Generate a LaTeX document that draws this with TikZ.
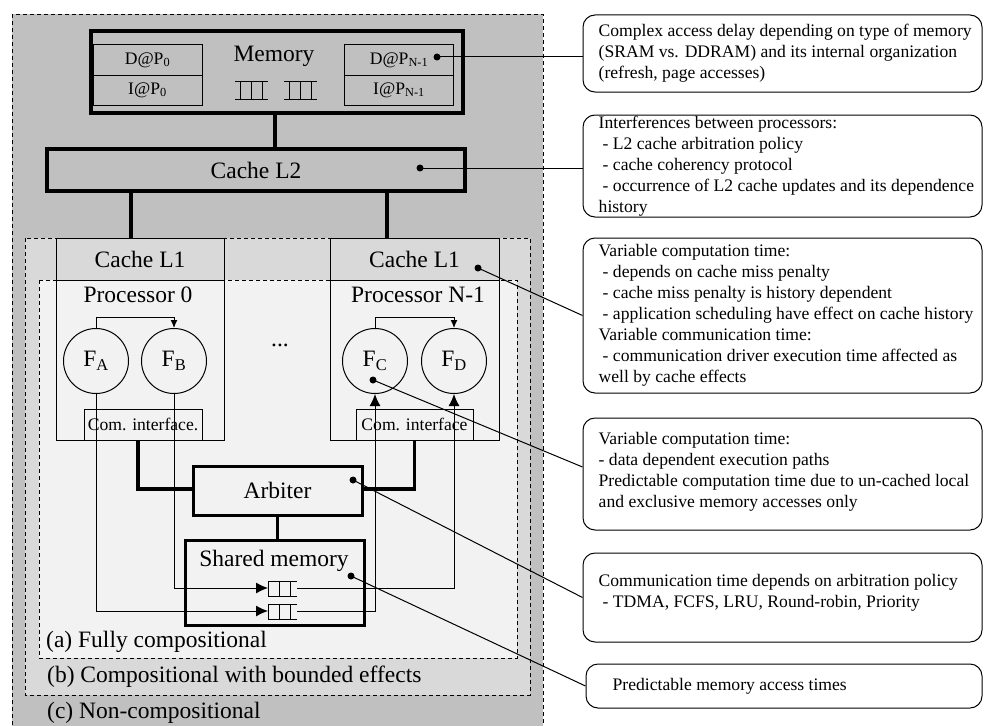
\documentclass[tikz,border=0pt]{standalone}
\usepackage{fontspec}
\setmainfont{Liberation Serif}
\usetikzlibrary{arrows.meta,calc}

\definecolor{grayC}{RGB}{192,192,192}
\definecolor{grayB}{RGB}{217,217,217}
\definecolor{grayA}{RGB}{242,242,242}

\newcommand{\bigfnt}{\fontsize{23.5}{27}\selectfont}
\newcommand{\smallfnt}{\fontsize{17.6}{21}\selectfont}

\tikzset{
	heavybox/.style={draw, line width=3.5pt, inner sep=0pt},
	thinbox/.style={draw, line width=1pt, inner sep=0pt},
	cell/.style={thinbox, fill=grayC, minimum width=109pt, minimum height=30pt, font=\smallfnt},
	func/.style={draw, circle, line width=1pt, inner sep=0pt, minimum size=65pt},
	region/.style={draw, line width=0.9pt, dash pattern=on 4pt off 3pt},
	bus/.style={line width=3.5pt},
	wire/.style={line width=1pt},
	dotmark/.style={circle, fill=black, inner sep=0pt, minimum size=7pt},
	note/.style={draw, rounded corners=12pt, line width=1pt, inner sep=0pt, minimum width=399pt},
	notetext/.style={anchor=west, align=left, inner sep=0pt, font=\smallfnt},
	ladder/.pic={
		\draw[line width=1pt] (0,0) -- (33,0) (0,18) -- (33,18)
		(5,0) -- (5,18) (16,0) -- (16,18) (27,0) -- (27,18);
	},
	queue/.pic={
		\draw[line width=1pt] (0,0) -- (29,0) (0,15) -- (29,15)
		(0,0) -- (0,15) (11,0) -- (11,15) (22,0) -- (22,15);
	}
}

\begin{document}
\begin{tikzpicture}
	[
	x=1pt, y=-1pt, font=\bigfnt, >={Latex[length=12pt,width=11pt]}
	%Pixelkoordinaten, y nach unten
	]
	\useasboundingbox (0,0) rectangle (984,725);
	
	%Bereiche (c), (b), (a)
	\draw[region, fill=grayC] (12,14) rectangle (543,740);
	\draw[region, fill=grayB] (25,238) rectangle (530,695);
	\draw[region, fill=grayA] (39,280) rectangle (517,658);
	\node[anchor=west, inner sep=0pt] (lblA) at (46,642) {(a) Fully compositional};
	\node[anchor=west, inner sep=0pt] (lblB) at (47,677) {(b) Compositional with bounded effects};
	\node[anchor=west, inner sep=0pt] (lblC) at (47,713) {(c) Non-compositional};
	
	%Memory
	\node[heavybox, fill=grayC, minimum width=372pt, minimum height=82pt] (mem) at (277,72) {};
	\node[anchor=base] (memlbl) at (274,62) {Memory};
	\node[cell] (d0) at (147.5,60) {D@P\textsubscript{0}};
	\node[cell] (i0) at (147.5,90) {I@P\textsubscript{0}};
	\node[cell] (dN) at (399,60) {D@P\textsubscript{N-1}};
	\node[cell] (iN) at (399,90) {I@P\textsubscript{N-1}};
	\pic at (235,81) {ladder};
	\pic at (284,81) {ladder};
	
	%Cache L2
	\node[heavybox, fill=grayC, minimum width=418pt, minimum height=42pt] (L2) at (256,170) {Cache L2};
	\draw[bus] ([xshift=-2pt]mem.south) -- ([xshift=-2pt]mem.south |- L2.north);
	
	%Prozessor 0
	\node[thinbox, fill=grayB, minimum width=168pt, minimum height=42pt] (L1a) at (140,259) {Cache L1};
	\node[thinbox, fill=grayA, minimum width=168pt, minimum height=160pt] (P0) at (140,360) {};
	\node[anchor=base] (P0lbl) at (138,302) {Processor 0};
	\node[func] (FA) at (96,361) {F\textsubscript{A}};
	\node[func] (FB) at (174,361) {F\textsubscript{B}};
	\node[thinbox, fill=grayA, minimum width=118pt, minimum height=31pt, font=\smallfnt] (ComA) at (143,424.5) {Com. interface.};
	
	%Prozessor N-1
	\node[thinbox, fill=grayB, minimum width=169pt, minimum height=42pt] (L1b) at (414.5,259) {Cache L1};
	\node[thinbox, fill=grayA, minimum width=169pt, minimum height=160pt] (PN) at (414.5,360) {};
	\node[anchor=base] (PNlbl) at (418,302) {Processor N-1};
	\node[func] (FC) at (375,361) {F\textsubscript{C}};
	\node[func] (FD) at (454,361) {F\textsubscript{D}};
	\node[thinbox, fill=grayA, minimum width=117pt, minimum height=31pt, font=\smallfnt] (ComB) at (414.5,424.5) {Com. interface};
	
	\node[anchor=base] (dots) at (280,346) {...};
	
	%Busse zu den Caches L1
	\draw[bus] ([xshift=-9pt]L1a.north) -- ([xshift=-9pt]L1a.north |- L2.south);
	\draw[bus] ([xshift=-27.5pt]L1b.north) -- ([xshift=-27.5pt]L1b.north |- L2.south);
	
	%Arbiter und Shared memory
	\node[heavybox, line width=3pt, fill=grayA, minimum width=169pt, minimum height=49pt] (Arb) at (277.5,490.5) {Arbiter};
	\draw[bus] ([xshift=-5pt]ComA.south) |- ([yshift=1.5pt]Arb.west);
	\draw[bus] (ComB.south) |- ([yshift=1.5pt]Arb.east);
	\node[heavybox, line width=3pt, fill=grayA, minimum width=179pt, minimum height=85pt] (SM) at (274.5,582.5) {};
	\draw[line width=2.5pt] (Arb.south) -- (Arb.south |- SM.north);
	\node[anchor=base] (SMlbl) at (274,566) {Shared memory};
	\pic at (268,581) {queue};
	\pic at (268,604) {queue};
	\coordinate (qUin) at (268,588);
	\coordinate (qUout) at (297,588);
	\coordinate (qLin) at (268,611);
	\coordinate (qLout) at (297,611);
	
	%Verbindungen
	\draw[wire, -{Latex[length=8pt,width=7pt]}] (FA.north) -- ++(0,-11) -| (FB.north);
	\draw[wire, -{Latex[length=8pt,width=7pt]}] (FC.north) -- ++(0,-11) -| (FD.north);
	\draw[wire, ->] (FA.south) |- (qLin);
	\draw[wire, ->] (FB.south) |- (qUin);
	\draw[wire, ->] (qLout) -| (FC.south);
	\draw[wire, ->] (qUout) -| (FD.south);
	
	%Markierungen
	\node[dotmark] (dDN) at (437,57) {};
	\node[dotmark] (dL2) at (420,168) {};
	\node[dotmark] (dL1) at (478,268) {};
	\node[dotmark] (dFC) at (373,380) {};
	\node[dotmark] (dArb) at (353,480) {};
	\node[dotmark] (dSM) at (351,576) {};
	
	%Anmerkungen
	\node[note, minimum height=77pt] (n1) at (782.5,53.5) {};
	\node[notetext] (t1) at ([xshift=16pt]n1.west) {Complex access delay depending on type of memory\\(SRAM vs. DDRAM) and its internal organization\\(refresh, page accesses)};
	\node[note, minimum height=102pt] (n2) at (782.5,166) {};
	\node[notetext] (t2) at ([xshift=16pt]n2.west) {Interferences between processors:\\\hspace*{4pt}- L2 cache arbitration policy\\\hspace*{4pt}- cache coherency protocol\\\hspace*{4pt}- occurrence of L2 cache updates and its dependence\\history};
	\node[note, minimum height=155pt] (n3) at (782.5,315.5) {};
	\node[notetext] (t3) at ([xshift=16pt]n3.west) {Variable computation time:\\\hspace*{4pt}- depends on cache miss penalty\\\hspace*{4pt}- cache miss penalty is history dependent\\\hspace*{4pt}- application scheduling have effect on cache history\\Variable communication time:\\\hspace*{4pt}- communication driver execution time affected as\\well by cache effects};
	\node[note, minimum height=112pt] (n4) at (782.5,474) {};
	\node[notetext] (t4) at ([xshift=16pt, yshift=2.5pt]n4.west) {Variable computation time:\\- data dependent execution paths\\Predictable computation time due to un-cached local\\and exclusive memory accesses only};
	\node[note, minimum height=89pt] (n5) at (782.5,597.5) {};
	\node[notetext] (t5) at ([xshift=16pt, yshift=5pt]n5.west) {Communication time depends on arbitration policy\\\hspace*{4pt}- TDMA, FCFS, LRU, Round-robin, Priority};
	\node[note, minimum width=396pt, minimum height=44pt] (n6) at (784,686) {};
	\node[notetext] (t6) at ([xshift=27pt]n6.west) {Predictable memory access times};
	
	\draw[wire] (dDN.center) -- (dDN -| n1.west);
	\draw[wire] (dL2.center) -- (dL2 -| n2.west);
	\draw[wire] (dL1.center) -- (n3.west);
	\draw[wire] (dFC.center) -- ([yshift=7pt]n4.west);
	\draw[wire] (dArb.center) -- (n5.west);
	\draw[wire] (dSM.center) -- (n6.west);
\end{tikzpicture}
\end{document}
